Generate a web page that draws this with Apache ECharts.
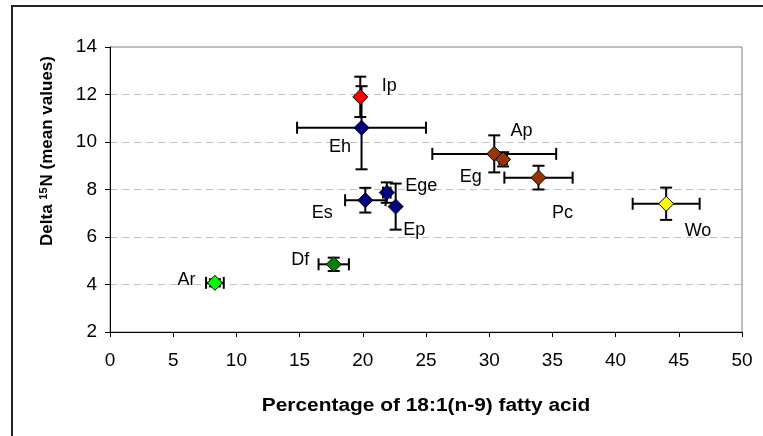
<!DOCTYPE html>
<html>
<head>
<meta charset="utf-8">
<script src="https://cdn.jsdelivr.net/npm/echarts@6/dist/echarts.min.js"></script>
<style>
html,body{margin:0;padding:0;background:#fff;}
#chart{width:763px;height:436px;}
</style>
</head>
<body>
<div id="chart"></div>
<script>
// ---- data ----
const names  = ['Ip', 'Eh', 'Es', 'Ege', 'Ep', 'Eg', 'Ap', 'Pc', 'Wo', 'Df', 'Ar'];
const xVals  = [19.8, 19.9, 20.2, 21.9, 22.6, 30.4, 31.1, 33.9, 44.0, 17.7, 8.3];
const yVals  = [11.9, 10.6, 7.55, 7.87, 7.28, 9.5, 9.27, 8.5, 7.4, 4.85, 4.07];
const xErr   = [0, 5.1, 1.6, 0.3, 0, 4.9, 0.3, 2.7, 2.65, 1.2, 0.7];
const yErr   = [0.85, 1.75, 0.52, 0.43, 0.97, 0.78, 0.3, 0.5, 0.68, 0.28, 0.15];
const xTicks = [0, 5, 10, 15, 20, 25, 30, 35, 40, 45, 50];
const yTicks = [2, 4, 6, 8, 10, 12, 14];
const xTitle = 'Percentage of 18:1(n-9) fatty acid';

// ---- styling / layout (not data) ----
const colors = {
  Ip: '#FF0000', Eh: '#000080', Es: '#000080', Ege: '#000080', Ep: '#000080',
  Eg: '#993300', Ap: '#993300', Pc: '#993300', Wo: '#FFFF00', Df: '#008000', Ar: '#00FF00'
};
// label placement relative to the marker centre: [dx, dy, align]
const labelPlace = {
  Ip: [22, -10, 'left'], Eh: [-21, 20, 'center'], Es: [-32, 13, 'right'],
  Ege: [19, -6, 'left'], Ep: [8, 24, 'left'], Eg: [-34, 24, 'left'],
  Ap: [8, -28, 'left'], Pc: [14, 36, 'left'], Wo: [19, 28, 'left'],
  Df: [-24, -4, 'right'], Ar: [-19, -2, 'right']
};
const FONT = '"Liberation Sans", Arial, sans-serif';
const SYM = 15;

const chart = echarts.init(document.getElementById('chart'), null, {renderer: 'canvas'});

const pointData = names.map((n, i) => {
  const p = labelPlace[n];
  return {
    name: n,
    value: [xVals[i], yVals[i]],
    itemStyle: {color: colors[n], borderColor: '#000', borderWidth: 1, opacity: 1},
    label: {
      show: true, formatter: n,
      position: [SYM / 2 + p[0], SYM / 2 + p[1]],
      align: p[2], verticalAlign: 'middle',
      fontFamily: FONT, fontSize: 18, color: '#000', opacity: 1
    }
  };
});

const errData = names.map((n, i) => [xVals[i], yVals[i], xErr[i], yErr[i]]);

const option = {
  animation: false,
  backgroundColor: '#fff',
  grid: {left: 110, right: 21, top: 47, bottom: 104, show: true,
         borderColor: '#808080', borderWidth: 1, backgroundColor: 'transparent'},
  xAxis: {
    type: 'value', min: xTicks[0], max: xTicks[xTicks.length - 1], interval: 5,
    axisLine: {onZero: false, lineStyle: {color: '#000', width: 1}},
    axisTick: {show: true, inside: false, length: 5, lineStyle: {color: '#000'}},
    axisLabel: {margin: 19, fontFamily: FONT, fontSize: 19, color: '#000'},
    splitLine: {show: false}
  },
  yAxis: {
    type: 'value', min: yTicks[0], max: yTicks[yTicks.length - 1], interval: 2,
    axisLine: {show: true, onZero: false, lineStyle: {color: '#000', width: 1}},
    axisTick: {show: true, inside: false, length: 5, lineStyle: {color: '#000'}},
    axisLabel: {margin: 13, fontFamily: FONT, fontSize: 19, color: '#000'},
    splitLine: {show: true, lineStyle: {color: '#c0c0c0', type: [7, 5], width: 1}}
  },
  graphic: [
    {type: 'rect', silent: true, z: 100,
     shape: {x: 12, y: 6, width: 900, height: 600},
     style: {fill: 'none', stroke: '#222', lineWidth: 2}},
    {type: 'text', z: 100, x: 426, y: 406, scaleX: 1.16,
     style: {text: xTitle, fontFamily: FONT, fontWeight: 'bold', fontSize: 18,
             fill: '#000', align: 'center', verticalAlign: 'middle'}},
    {type: 'text', z: 100, x: 47, y: 151, rotation: Math.PI / 2,
     style: {text: '{b|Delta }{s|15}{b|N (mean values)}', fontFamily: FONT,
             align: 'center', verticalAlign: 'middle', fill: '#000',
             rich: {
               b: {fontFamily: FONT, fontWeight: 'bold', fontSize: 17, fill: '#000'},
               s: {fontFamily: FONT, fontWeight: 'bold', fontSize: 11, fill: '#000', verticalAlign: 'top', padding: [0, 1, 6, 0]}
             }}}
  ],
  series: [
    {
      type: 'custom', z: 2,
      data: errData,
      renderItem: function (params, api) {
        const x = api.value(0), y = api.value(1), xe = api.value(2), ye = api.value(3);
        const cap = 6;
        const st = {stroke: '#000', lineWidth: 2};
        const kids = [];
        if (xe > 0) {
          const l = api.coord([x - xe, y]), r = api.coord([x + xe, y]);
          kids.push({type: 'line', shape: {x1: l[0], y1: l[1], x2: r[0], y2: r[1]}, style: st});
          kids.push({type: 'line', shape: {x1: l[0], y1: l[1] - cap, x2: l[0], y2: l[1] + cap}, style: st});
          kids.push({type: 'line', shape: {x1: r[0], y1: r[1] - cap, x2: r[0], y2: r[1] + cap}, style: st});
        }
        if (ye > 0) {
          const t = api.coord([x, y + ye]), b = api.coord([x, y - ye]);
          kids.push({type: 'line', shape: {x1: t[0], y1: t[1], x2: b[0], y2: b[1]}, style: st});
          kids.push({type: 'line', shape: {x1: t[0] - cap, y1: t[1], x2: t[0] + cap, y2: t[1]}, style: st});
          kids.push({type: 'line', shape: {x1: b[0] - cap, y1: b[1], x2: b[0] + cap, y2: b[1]}, style: st});
        }
        return {type: 'group', children: kids};
      }
    },
    {
      type: 'scatter', z: 3,
      symbol: 'diamond', symbolSize: SYM,
      itemStyle: {opacity: 1},
      data: pointData
    }
  ]
};
chart.setOption(option);
</script>
</body>
</html>
